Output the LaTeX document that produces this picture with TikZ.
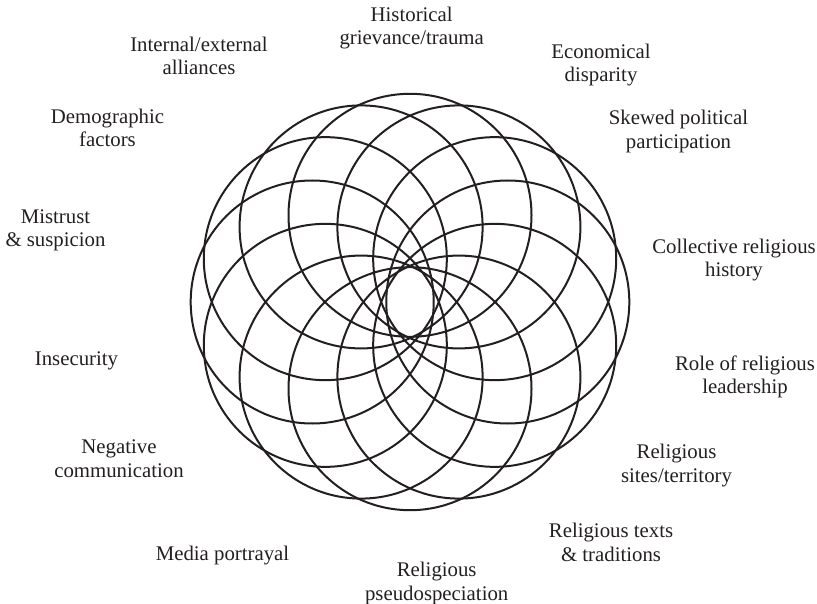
\documentclass[tikz,border=0pt]{standalone}
\usepackage{fontspec}
\usetikzlibrary{calc}
\setmainfont{Liberation Serif}
\definecolor{ink}{HTML}{231F20}
\newcommand\twoline[1]{\begin{tabular}[b]{@{}c@{}}#1\end{tabular}}
\tikzset{
  ring/.style={draw=ink, line width=2pt},
  lab/.style={text=ink, inner sep=0pt, anchor=base,
    font=\fontsize{20.8}{23.5}\selectfont}
}
\begin{document}
\begin{tikzpicture}[x=1pt,y=-1pt]
\useasboundingbox (0,0) rectangle (817,604);
\coordinate (c) at (410,302);
\foreach \a in {0,30,...,330}{
  \draw[ring] ($(c)+({97.8*cos(\a)},{86.7*sin(\a)})$) circle[radius=121.5];
}
\node[lab] (l1) at (411.7,45) {\twoline{Historical\\grievance/trauma}};
\node[lab] (l2) at (601,81.7) {\twoline{Economical\\disparity}};
\node[lab] (l3) at (678.5,148.3) {\twoline{Skewed political\\participation}};
\node[lab] (l4) at (734,276.7) {\twoline{Collective religious\\history}};
\node[lab] (l5) at (745,393.7) {\twoline{Role of religious\\leadership}};
\node[lab] (l6) at (676.5,482) {\twoline{Religious\\sites/territory}};
\node[lab] (l7) at (611,561.3) {\twoline{Religious texts\\\& traditions}};
\node[lab] (l8) at (436.7,600) {\twoline{Religious\\pseudospeciation}};
\node[lab] (l9) at (222.5,560.3) {Media portrayal};
\node[lab] (l10) at (119,477) {\twoline{Negative\\communication}};
\node[lab] (l11) at (76.5,365.3) {Insecurity};
\node[lab] (l12) at (55.5,246.7) {\twoline{Mistrust\\\& suspicion}};
\node[lab] (l13) at (107.5,146.7) {\twoline{Demographic\\factors}};
\node[lab] (l14) at (199,75) {\twoline{Internal/external\\alliances}};
\end{tikzpicture}
\end{document}
